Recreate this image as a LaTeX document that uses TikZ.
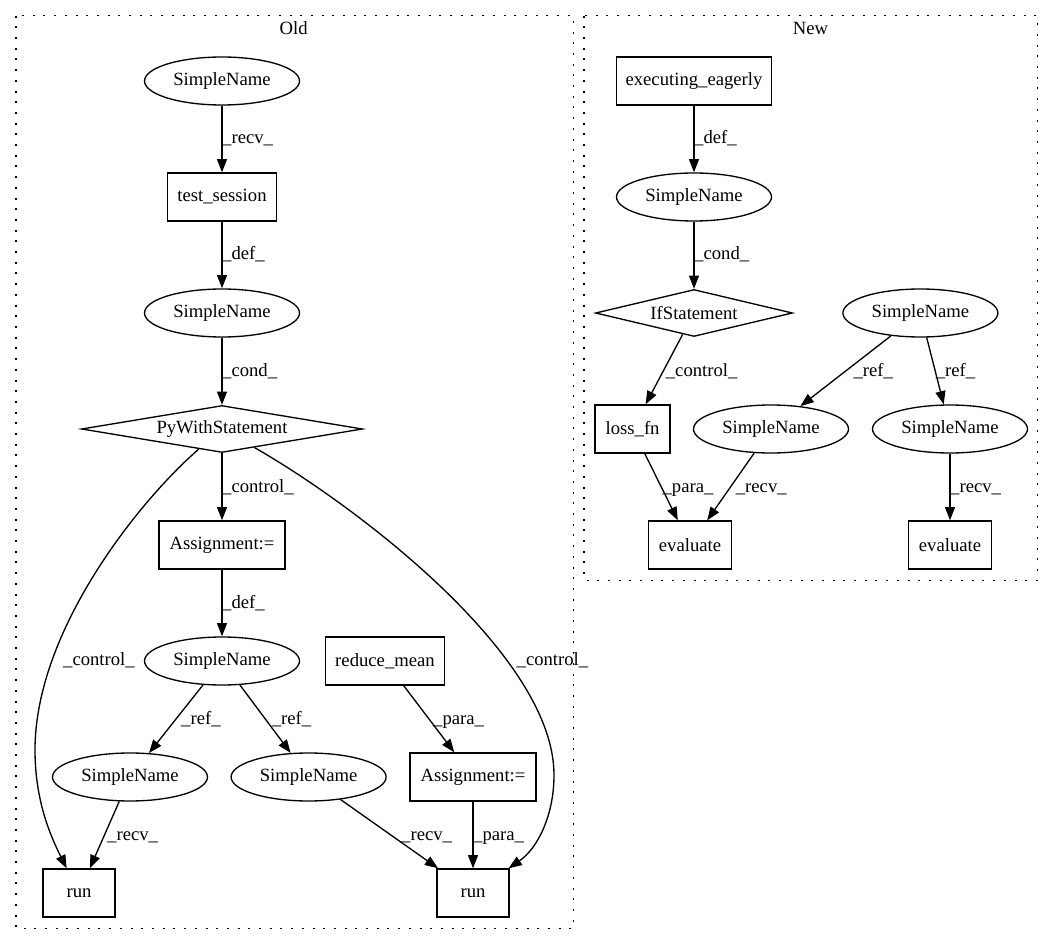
\documentclass[tikz,border=0pt]{standalone}
\usepackage{fontspec}
\setmainfont{Liberation Serif}
\usetikzlibrary{shapes.geometric,arrows.meta}
\begin{document}
\begin{tikzpicture}[x=1pt,y=-1pt,
  every node/.style={font=\fontsize{18.67}{22}\selectfont},
  ell/.style={draw, ellipse, line width=1.33pt, minimum width=155pt, minimum height=48pt, inner sep=0pt},
  box/.style={draw, rectangle, line width=1.33pt, minimum height=48pt, inner sep=0pt},
  dia/.style={draw, diamond, line width=1.33pt, inner sep=0pt, minimum height=47pt},
  edge/.style={draw, line width=1.33pt, -{Triangle[length=13.3pt,width=10pt]}},
  lbl/.style={anchor=base west, inner sep=0pt},
  clbl/.style={anchor=base, inner sep=0pt},
  clus/.style={draw, line width=1.33pt, dash pattern=on 2pt off 8.7pt}]
\useasboundingbox (0,0) rectangle (1053,944);
% clusters
\draw[clus] (16,15.7) rectangle (573.3,928.3);
\draw[clus] (584,15.7) rectangle (1037.3,580.3);
\node[clbl] (oldlbl) at (293.7,35) {Old};
\node[clbl] (newlbl) at (810.5,35) {New};
% Old nodes
\node[ell] (osn1) at (222,81) {SimpleName};
\node[box, minimum width=108.5pt] (ots) at (222,197) {test\_session};
\node[ell] (osn2) at (222,313) {SimpleName};
\node[dia, minimum width=281pt, shape aspect=6] (opw) at (222,429) {PyWithStatement};
\node[box, minimum width=126pt] (oas1) at (222,545) {Assignment:=};
\node[ell] (osn3) at (222,661) {SimpleName};
\node[box, minimum width=119pt] (orm) at (385,661) {reduce\_mean};
\node[ell] (osn4) at (130,777) {SimpleName};
\node[ell] (osn5) at (308.6,777) {SimpleName};
\node[box, minimum width=126pt] (oas2) at (473,777) {Assignment:=};
\node[box, minimum width=72pt] (orun1) at (79,893) {run};
\node[box, minimum width=72pt] (orun2) at (473,893) {run};
\coordinate (cl) at (35,750);
\coordinate (cr) at (554,775);
% Old edges
\draw[edge] (osn1) -- (ots);
\draw[edge] (ots) -- (osn2);
\draw[edge] (osn2) -- (opw);
\draw[edge] (opw) -- (oas1);
\draw[edge] (oas1) -- (osn3);
\draw[edge] (osn3) -- (osn4);
\draw[edge] (osn3) -- (osn5);
\draw[edge] (orm) -- (oas2);
\draw[edge] (osn4) -- (orun1);
\draw[edge] (osn5) -- (orun2);
\draw[edge] (oas2) -- (orun2);
\draw[edge] (opw) .. controls (140,500) and (35,630) .. (cl) .. controls (35,800) and (50,835) .. (orun1);
\draw[edge] (opw) .. controls (355,505) and (554,655) .. (cr) .. controls (554,815) and (538,848) .. (orun2);
% Old labels
\node[lbl] (l1) at (222,144) {\_recv\_};
\node[lbl] (l2) at (222,260) {\_def\_};
\node[lbl] (l3) at (222,376) {\_cond\_};
\node[lbl] (l4) at (222,492) {\_control\_};
\node[lbl] (l5) at (222,608) {\_def\_};
\node[lbl] (l6) at (63,665) {\_control\_};
\node[lbl] (l7) at (516.5,665) {\_control\_};
\node[lbl] (l8) at (181,724) {\_ref\_};
\node[lbl] (l9) at (271.6,724) {\_ref\_};
\node[lbl] (l10) at (433,724) {\_para\_};
\node[lbl] (l11) at (107,840) {\_recv\_};
\node[lbl] (l12) at (401,840) {\_recv\_};
\node[lbl] (l13) at (473,840) {\_para\_};
% New nodes
\node[box, minimum width=155pt] (nee) at (694,81) {executing\_eagerly};
\node[ell] (nsn1) at (694,197) {SimpleName};
\node[dia, minimum width=197pt, shape aspect=4.2] (nif) at (694,313) {IfStatement};
\node[ell] (nsn2) at (920.4,313) {SimpleName};
\node[box, minimum width=75pt] (nloss) at (632.6,429) {loss\_fn};
\node[ell] (nsn3) at (771,429) {SimpleName};
\node[ell] (nsn4) at (950,429) {SimpleName};
\node[box, minimum width=83pt] (nev1) at (690,545) {evaluate};
\node[box, minimum width=83pt] (nev2) at (950,545) {evaluate};
% New edges
\draw[edge] (nee) -- (nsn1);
\draw[edge] (nsn1) -- (nif);
\draw[edge] (nif) -- (nloss);
\draw[edge] (nsn2) -- (nsn3);
\draw[edge] (nsn2) -- (nsn4);
\draw[edge] (nloss) -- (nev1);
\draw[edge] (nsn3) -- (nev1);
\draw[edge] (nsn4) -- (nev2);
% New labels
\node[lbl] (m1) at (694,144) {\_def\_};
\node[lbl] (m2) at (694,260) {\_cond\_};
\node[lbl] (m3) at (665.7,376) {\_control\_};
\node[lbl] (m4) at (853.4,376) {\_ref\_};
\node[lbl] (m5) at (935.7,376) {\_ref\_};
\node[lbl] (m6) at (662.4,492) {\_para\_};
\node[lbl] (m7) at (735.7,492) {\_recv\_};
\node[lbl] (m8) at (950,492) {\_recv\_};
\end{tikzpicture}
\end{document}
